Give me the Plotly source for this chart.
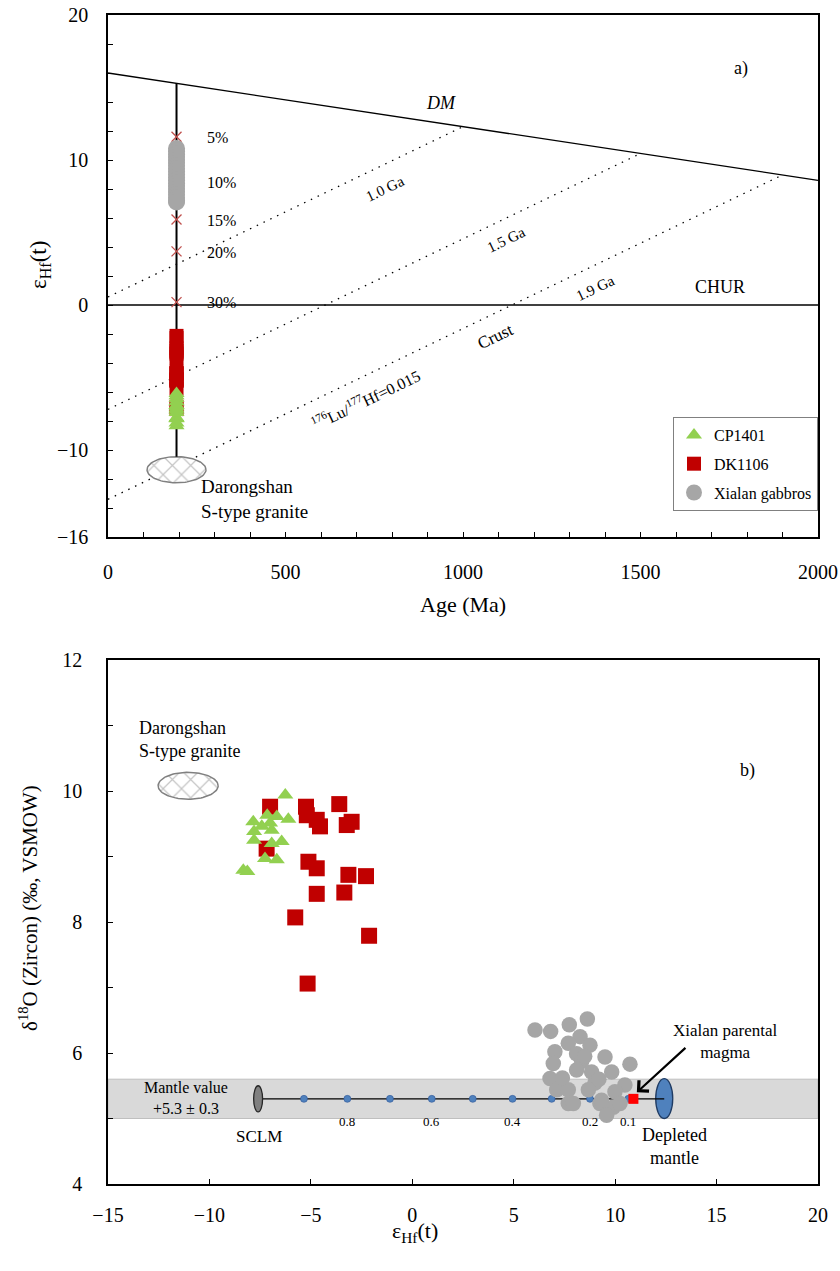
import numpy as np
import plotly.graph_objects as go

FONT = "Liberation Serif, Times New Roman, serif"

# ---------------- Panel a: age vs eHf(t) ----------------
DM_AGE = [0, 2000]
DM_EHF = [16.0, 8.6]
CHUR_AGE = [0, 2000]
CHUR_EHF = [0, 0]

# crustal evolution lines (176Lu/177Hf = 0.015): model age and present-day eHf
CRUST_T = [1000, 1500, 1900]
CRUST_EHF0 = [0.55, -7.2, -13.4]
CRUST_LABELS = ["1.0 Ga", "1.5 Ga", "1.9 Ga"]

CRYST_AGE = 193  # Ma

# binary mixing ticks along the vertical line
MIX_PCT = ["5%", "10%", "15%", "20%", "30%"]
MIX_PCT_EHF = [11.6, 8.5, 5.9, 3.7, 0.2]

XIALAN_EHF_ALL = [10.8, 10.6, 10.4, 10.2, 10.0, 9.8, 9.6, 9.4, 9.2, 9.0,
                  8.8, 8.6, 8.4, 8.2, 8.0, 7.8, 7.6, 7.4, 7.2, 7.1]

# ---------------- Panel b: eHf(t) vs d18O ----------------
CP1401_EHF = [-6.26, -7.84, -7.15, -6.68, -6.11, -7.01, -7.80, -7.42,
              -7.80, -6.93, -6.44, -7.26, -6.68, -8.33, -8.13, -6.93]
CP1401_D18O = [9.94, 9.53, 9.63, 9.61, 9.57, 9.51, 9.38, 9.46,
               9.25, 9.20, 9.23, 8.97, 8.95, 8.79, 8.77, 9.40]

DK1106_EHF = [-7.01, -5.24, -3.60, -4.71, -4.55, -3.23, -2.99, -5.20, -7.18,
              -5.12, -4.71, -3.15, -2.28, -4.71, -3.35, -5.77, -2.13, -5.16]
DK1106_D18O = [9.76, 9.76, 9.80, 9.56, 9.46, 9.48, 9.53, 9.63, 9.12,
               8.92, 8.82, 8.72, 8.70, 8.43, 8.45, 8.07, 7.79, 7.06]

XIALAN_EHF = [8.63, 6.05, 6.82, 7.74, 8.27, 8.76, 7.03, 7.69, 8.10, 6.95, 8.35,
              9.50, 10.73, 8.10, 8.84, 9.83, 6.79, 9.00, 10.48, 7.12, 7.69,
              8.68, 9.99, 7.69, 9.25, 9.91, 9.58, 7.94, 9.33, 10.24, 7.40,
              8.50, 9.20]
XIALAN_D18O = [6.52, 6.35, 6.33, 6.43, 6.25, 6.12, 6.02, 6.15, 5.99, 5.84, 5.87,
               5.94, 5.83, 5.74, 5.71, 5.71, 5.61, 5.54, 5.51, 5.44, 5.44,
               5.44, 5.41, 5.23, 5.23, 5.17, 5.05, 5.23, 5.28, 5.23, 5.62,
               5.95, 5.60]

# Darongshan S-type granite field
DARONG_A_EHF = -11.36
DARONG_B_EHF = -11.05
DARONG_B_D18O = 10.08

# SCLM - depleted mantle mixing line
MANTLE_D18O = 5.3
MANTLE_D18O_ERR = 0.3
SCLM_EHF = -7.6
DMM_EHF = 12.42
MIX_FRAC = [0.9, 0.8, 0.7, 0.6, 0.5, 0.4, 0.3, 0.2, 0.1]
MIX_EHF = [-5.34, -3.2, -1.1, 0.96, 2.98, 4.94, 6.87, 8.76, 10.65]
MIX_FRAC_LABELED = [0.8, 0.6, 0.4, 0.2, 0.1]
PARENT_EHF = 10.9
PARENT_D18O = 5.3

GREEN = "#92d050"
RED = "#c00000"
GRAY = "#a6a6a6"
BLUE = "#4f81bd"


def ellipse(cx, cy, rx, ry, n=90):
    t = np.linspace(0, 2 * np.pi, n)
    return cx + rx * np.cos(t), cy + ry * np.sin(t)


hatch = dict(shape="x", fgcolor="#8c8c8c", bgcolor="white", size=13, solidity=0.18)

fig = go.Figure()

# ---- panel a ----
fig.add_trace(go.Scatter(x=DM_AGE, y=DM_EHF, mode="lines",
                         line=dict(color="black", width=1.3),
                         showlegend=False, hoverinfo="skip", xaxis="x", yaxis="y"))
fig.add_trace(go.Scatter(x=CHUR_AGE, y=CHUR_EHF, mode="lines",
                         line=dict(color="black", width=1.3),
                         showlegend=False, hoverinfo="skip", xaxis="x", yaxis="y"))
for t, e0 in zip(CRUST_T, CRUST_EHF0):
    et = float(np.interp(t, DM_AGE, DM_EHF))
    fig.add_trace(go.Scatter(x=[0, t], y=[e0, et], mode="lines",
                             line=dict(color="black", width=1.3, dash="1.5px,6px"),
                             showlegend=False, hoverinfo="skip", xaxis="x", yaxis="y"))

ex, ey = ellipse(CRYST_AGE, DARONG_A_EHF, 83, 0.9)
fig.add_trace(go.Scatter(x=ex, y=ey, mode="lines", fill="toself",
                         fillcolor="white", fillpattern=hatch,
                         line=dict(color="#808080", width=1.5),
                         showlegend=False, hoverinfo="skip", xaxis="x", yaxis="y"))

dm_at_age = float(np.interp(CRYST_AGE, DM_AGE, DM_EHF))
fig.add_trace(go.Scatter(x=[CRYST_AGE, CRYST_AGE], y=[dm_at_age, DARONG_A_EHF + 0.9],
                         mode="lines", line=dict(color="black", width=2),
                         showlegend=False, hoverinfo="skip", xaxis="x", yaxis="y"))
fig.add_trace(go.Scatter(x=[CRYST_AGE] * len(MIX_PCT_EHF), y=MIX_PCT_EHF, mode="markers",
                         marker=dict(symbol="x-thin", size=10,
                                     line=dict(color="#c0504d", width=1.3)),
                         showlegend=False, hoverinfo="skip", xaxis="x", yaxis="y"))

fig.add_trace(go.Scatter(x=[CRYST_AGE] * len(XIALAN_EHF_ALL), y=XIALAN_EHF_ALL,
                         mode="markers", name="Xialan gabbros", legendrank=3,
                         legendgroup="c",
                         marker=dict(symbol="circle", size=17, color=GRAY),
                         xaxis="x", yaxis="y"))
fig.add_trace(go.Scatter(x=[CRYST_AGE] * len(DK1106_EHF), y=DK1106_EHF,
                         mode="markers", name="DK1106", legendrank=2,
                         legendgroup="b",
                         marker=dict(symbol="square", size=14, color=RED),
                         xaxis="x", yaxis="y"))
fig.add_trace(go.Scatter(x=[CRYST_AGE] * len(CP1401_EHF), y=CP1401_EHF,
                         mode="markers", name="CP1401", legendrank=1,
                         legendgroup="a",
                         marker=dict(symbol="triangle-up", size=14, color=GREEN),
                         xaxis="x", yaxis="y"))

# ---- panel b ----
fig.add_trace(go.Scatter(x=[SCLM_EHF, DMM_EHF], y=[MANTLE_D18O, MANTLE_D18O],
                         mode="lines", line=dict(color="black", width=1.2),
                         showlegend=False, hoverinfo="skip", xaxis="x2", yaxis="y2"))
fig.add_trace(go.Scatter(x=MIX_EHF, y=[MANTLE_D18O] * len(MIX_EHF), mode="markers",
                         marker=dict(size=7, color=BLUE, line=dict(color="#2f5597", width=0.6)),
                         showlegend=False, hoverinfo="skip", xaxis="x2", yaxis="y2"))

bx, by = ellipse(DARONG_B_EHF, DARONG_B_D18O, 1.48, 0.205)
fig.add_trace(go.Scatter(x=bx, y=by, mode="lines", fill="toself",
                         fillcolor="white", fillpattern=hatch,
                         line=dict(color="#808080", width=1.5),
                         showlegend=False, hoverinfo="skip", xaxis="x2", yaxis="y2"))

fig.add_trace(go.Scatter(x=[PARENT_EHF], y=[PARENT_D18O], mode="markers",
                         marker=dict(symbol="square", size=10, color="#ff0000"),
                         showlegend=False, hoverinfo="skip", xaxis="x2", yaxis="y2"))
fig.add_trace(go.Scatter(x=DK1106_EHF, y=DK1106_D18O, mode="markers",
                         marker=dict(symbol="square", size=16, color=RED),
                         showlegend=False, xaxis="x2", yaxis="y2"))
fig.add_trace(go.Scatter(x=CP1401_EHF, y=CP1401_D18O, mode="markers",
                         marker=dict(symbol="triangle-up", size=14, color=GREEN),
                         showlegend=False, xaxis="x2", yaxis="y2"))
fig.add_trace(go.Scatter(x=XIALAN_EHF, y=XIALAN_D18O, mode="markers",
                         marker=dict(symbol="circle", size=15.5, color=GRAY),
                         showlegend=False, xaxis="x2", yaxis="y2"))

shapes = [
    dict(type="rect", xref="x2", yref="y2", x0=-15, x1=20,
         y0=MANTLE_D18O - MANTLE_D18O_ERR, y1=MANTLE_D18O + MANTLE_D18O_ERR,
         fillcolor="#d9d9d9", line=dict(color="#bfbfbf", width=1), layer="below"),
    dict(type="circle", xref="x2", yref="y2", x0=DMM_EHF - 0.42, x1=DMM_EHF + 0.42,
         y0=MANTLE_D18O - 0.3, y1=MANTLE_D18O + 0.31,
         fillcolor=BLUE, line=dict(color="#1f3b63", width=1.3), layer="below"),
    dict(type="circle", xref="x2", yref="y2", x0=SCLM_EHF - 0.22, x1=SCLM_EHF + 0.22,
         y0=MANTLE_D18O - 0.2, y1=MANTLE_D18O + 0.2,
         fillcolor="#808080", line=dict(color="#262626", width=1.3), layer="above"),
]

ann = []


def txt(x, y, text, size, xref="x", yref="y", angle=0, xanchor="center",
        align="center", italic=False):
    ann.append(dict(x=x, y=y, xref=xref, yref=yref, text=text, showarrow=False,
                    textangle=angle, xanchor=xanchor, yanchor="middle", align=align,
                    font=dict(family=FONT, size=size, color="black",
                              style="italic" if italic else "normal")))


# panel a labels
txt(1784, 16.3, "a)", 18)
txt(937, 13.9, "DM", 18, italic=True)
txt(1725, 1.25, "CHUR", 18)
for lab, ax_, ay_ in zip(CRUST_LABELS, [779, 1120, 1373], [8.0, 4.5, 1.2]):
    txt(ax_, ay_, lab, 15, angle=-25.6)
txt(1092, -2.2, "Crust", 17, angle=-25.6)
txt(728, -6.5, "<sup>176</sup>Lu/<sup>177</sup>Hf=0.015", 16, angle=-25.6)
for lab, e in zip(MIX_PCT, MIX_PCT_EHF):
    txt(272, e - 0.05, lab, 16, xanchor="left")
txt(255, -13.38, "Darongshan<br>S-type granite", 19, xanchor="left", align="left")

# panel b labels
txt(16.54, 10.32, "b)", 18, "x2", "y2")
txt(-13.57, 10.78, "Darongshan<br>S-type granite", 18, "x2", "y2", xanchor="left", align="left")
txt(-11.15, 5.31, "Mantle value<br>+5.3 ± 0.3", 16, "x2", "y2")
txt(-7.56, 4.72, "SCLM", 17, "x2", "y2")
txt(12.95, 4.58, "Depleted<br>mantle", 18, "x2", "y2")
txt(15.45, 6.17, "Xialan parental<br>magma", 17, "x2", "y2")
for f, e in zip(MIX_FRAC, MIX_EHF):
    if f in MIX_FRAC_LABELED:
        txt(e, 4.95, f"{f:g}", 13, "x2", "y2")

ann.append(dict(x=11.07, y=5.40, ax=13.54, ay=6.10, xref="x2", yref="y2",
                axref="x2", ayref="y2", text="", showarrow=True,
                arrowhead=4, arrowsize=1.3, arrowwidth=2.2, arrowcolor="black"))

# axis titles
txt(-0.096, 0.786, "ε<sub>Hf</sub>(t)", 23, "paper", "paper", angle=-90)
txt(0.5, (1184 - 604) / 1169, "Age (Ma)", 22, "paper", "paper")
txt((415 - 108) / 710, (1184 - 1232) / 1169, "ε<sub>Hf</sub>(t)", 22, "paper", "paper")
txt((28 - 108) / 710, (1184 - 908) / 1169,
    "δ<sup>18</sup>O (Zircon) (‰, VSMOW)", 21, "paper", "paper", angle=-90)

axis_common = dict(showline=True, linecolor="black", linewidth=1.5, mirror=True,
                   ticks="inside", ticklen=5, tickwidth=1.3, tickcolor="black",
                   showgrid=False, zeroline=False, automargin=False,
                   tickfont=dict(family=FONT, size=20, color="black"))

top_dom = [(1184 - 537) / 1169, 1.0]
bot_dom = [0.0, (1184 - 660) / 1169]

fig.update_layout(
    width=840, height=1271,
    margin=dict(l=108, r=22, t=15, b=87, autoexpand=False),
    paper_bgcolor="white", plot_bgcolor="white",
    font=dict(family=FONT, color="black"),
    xaxis=dict(axis_common, domain=[0, 1], range=[0, 2000], anchor="y",
               tickvals=[0, 500, 1000, 1500, 2000], ticklabelstandoff=16,
               minor=dict(dtick=100, tick0=0, ticks="inside", ticklen=5,
                          tickcolor="black", tickwidth=1.3)),
    yaxis=dict(axis_common, domain=top_dom, range=[-16, 20], anchor="x",
               tickvals=[-16, -10, 0, 10, 20], ticklabelstandoff=14,
               minor=dict(dtick=2, tick0=0, ticks="inside", ticklen=5,
                          tickcolor="black", tickwidth=1.3)),
    xaxis2=dict(axis_common, domain=[0, 1], range=[-15, 20], anchor="y2",
                tickvals=[-15, -10, -5, 0, 5, 10, 15, 20], ticklabelstandoff=12),
    yaxis2=dict(axis_common, domain=bot_dom, range=[4, 12], anchor="x2",
                tickvals=[4, 6, 8, 10, 12], ticklabelstandoff=20,
                minor=dict(dtick=1, tick0=0, ticks="inside", ticklen=5,
                           tickcolor="black", tickwidth=1.3)),
    legend=dict(x=1.0, xanchor="right", y=(1184 - 417) / 1169, yanchor="top",
                bgcolor="white", bordercolor="#808080", borderwidth=1,
                font=dict(family=FONT, size=16, color="black"),
                traceorder="grouped", tracegroupgap=5, itemwidth=30),
    shapes=shapes,
    annotations=ann,
    showlegend=True,
)

fig.write_html("out.html")
